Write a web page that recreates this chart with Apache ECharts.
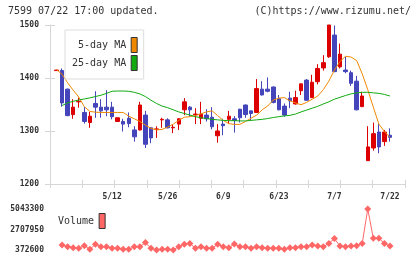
<!DOCTYPE html>
<html>
<head>
<meta charset="utf-8">
<script src="https://cdn.jsdelivr.net/npm/echarts@6/dist/echarts.min.js"></script>
<style>
  html, body { margin: 0; padding: 0; background: #fff; }
  #chart { width: 420px; height: 259px; }
</style>
</head>
<body>
<div id="chart"></div>
<script>
// trading days shown (2025), one candle per day
const dates = [
  '4/23','4/24','4/25','4/28','4/30','5/1','5/2','5/7','5/8','5/9',
  '5/12','5/13','5/14','5/15','5/16','5/19','5/20','5/21','5/22','5/23',
  '5/26','5/27','5/28','5/29','5/30','6/2','6/3','6/4','6/5','6/6',
  '6/9','6/10','6/11','6/12','6/13','6/16','6/17','6/18','6/19','6/20',
  '6/23','6/24','6/25','6/26','6/27','6/30','7/1','7/2','7/3','7/4',
  '7/7','7/8','7/9','7/10','7/11','7/14','7/15','7/16','7/17','7/18',
  '7/22'
];
const labelDays = ['5/12', '5/26', '6/9', '6/23', '7/7', '7/22'];

// [open, close, low, high]
const ohlc = [
  [1414, 1415, 1414, 1415], [1414, 1353, 1346, 1418], [1379, 1329, 1328, 1380],
  [1331, 1345, 1323, 1360], [1355, 1356, 1344, 1363], [1335, 1318, 1314, 1345],
  [1316, 1328, 1306, 1336], [1352, 1345, 1325, 1375], [1345, 1338, 1325, 1360],
  [1345, 1340, 1328, 1377], [1345, 1327, 1322, 1355], [1318, 1325, 1317, 1325],
  [1318, 1313, 1299, 1323], [1324, 1314, 1307, 1335], [1302, 1289, 1280, 1309],
  [1302, 1349, 1301, 1355], [1330, 1275, 1268, 1338], [1306, 1287, 1277, 1307],
  [1303, 1304, 1287, 1309], [1321, 1322, 1306, 1325], [1321, 1306, 1305, 1324],
  [1306, 1307, 1296, 1313], [1313, 1323, 1302, 1324], [1340, 1355, 1330, 1362],
  [1345, 1340, 1327, 1347], [1331, 1332, 1313, 1343], [1324, 1332, 1313, 1355],
  [1330, 1323, 1318, 1341], [1326, 1308, 1303, 1345], [1291, 1300, 1278, 1313],
  [1313, 1310, 1292, 1323], [1322, 1328, 1314, 1338], [1323, 1320, 1297, 1328],
  [1341, 1325, 1316, 1342], [1349, 1331, 1325, 1350], [1338, 1333, 1320, 1338],
  [1335, 1380, 1334, 1398], [1379, 1368, 1367, 1394], [1379, 1375, 1373, 1401],
  [1383, 1354, 1352, 1384], [1361, 1340, 1339, 1368], [1347, 1330, 1327, 1352],
  [1362, 1357, 1343, 1374], [1351, 1363, 1350, 1376], [1376, 1389, 1368, 1389],
  [1396, 1358, 1357, 1398], [1363, 1392, 1362, 1406], [1393, 1418, 1388, 1426],
  [1419, 1429, 1414, 1443], [1440, 1500, 1438, 1500], [1481, 1412, 1411, 1499],
  [1421, 1445, 1418, 1465], [1415, 1412, 1409, 1440], [1410, 1390, 1385, 1414],
  [1394, 1340, 1339, 1404], [1346, 1366, 1345, 1374], [1244, 1270, 1244, 1309],
  [1268, 1295, 1263, 1316], [1298, 1270, 1258, 1314], [1280, 1298, 1272, 1302],
  [1292, 1288, 1280, 1305]
];

const ma5 = [
  1416, 1407, 1391, 1377, 1364, 1346, 1337, 1335.5, 1335, 1335,
  1335, 1335, 1335, 1328, 1323, 1318, 1311, 1305, 1302, 1303,
  1307.5, 1313, 1320, 1326, 1327, 1329, 1332.5, 1336, 1338, 1329,
  1320, 1314, 1312.5, 1312.5, 1318, 1324, 1330, 1340, 1347, 1358.5,
  1362, 1363, 1357, 1353, 1349.5, 1354, 1360, 1366, 1378, 1394,
  1415, 1431, 1441, 1439.5, 1433, 1408, 1378, 1345, 1313, 1299,
  1288
];

const ma25 = [
  null, 1348, 1353, 1356, 1358.5, 1360.4, 1362.5, 1365, 1367.5, 1371,
  1375, 1375.4, 1375.4, 1375, 1373, 1370, 1365, 1358, 1352, 1347,
  1344, 1340, 1336, 1333, 1330, 1327, 1325, 1323.5, 1322, 1321,
  1320, 1319.5, 1319.5, 1319, 1319, 1320, 1321, 1322, 1323.5, 1325.5,
  1327, 1328.5, 1329.5, 1332, 1336, 1339.5, 1343, 1346.5, 1351, 1355,
  1360, 1363.5, 1367, 1370, 1372, 1373, 1373, 1372, 1371, 1369,
  1366
];

const volume = [
  null, 946000, 755000, 640000, 564000, 870000, 449000, 1023000, 755000, 755000,
  564000, 564000, 449000, 449000, 755000, 755000, 1214000, 564000, 372600, 449000,
  449000, 380000, 755000, 1023000, 1120000, 564000, 755000, 564000, 564000, 1023000,
  755000, 640000, 1061000, 755000, 755000, 564000, 755000, 640000, 564000, 564000,
  564000, 449000, 640000, 640000, 755000, 755000, 946000, 832000, 755000, 1120000,
  1673000, 832000, 755000, 832000, 870000, 1120000, 5043300, 1712000, 1712000, 1120000,
  832000
];

const priceMin = 1200;
const priceMax = 1500;
const volumeTicks = [372600, 2707950, 5043300];

const mono = 'DejaVu Sans Mono';
const axisGray = '#d6d6d6';
const plain = v => String(Math.round(v));

// x runs over candle index; extent leaves room left of the first candle and right of the last
const xMin = -1.17;
const xMax = 62.7;
const tickVals = [];
for (let k = 0; k <= 11; k++) tickVals.push(xMin + (xMax - xMin) * k / 11);
const labelIdx = labelDays.map(d => dates.indexOf(d));

const chart = echarts.init(document.getElementById('chart'), null, { renderer: 'canvas' });

const baseX = {
  type: 'value', min: xMin, max: xMax, position: 'bottom',
  splitLine: { show: false }
};

chart.setOption({
  animation: false,
  title: [
    { text: '7599 07/22 17:00 updated.', left: 8, top: 6, padding: 0,
      textStyle: { fontFamily: mono, fontSize: 10, fontWeight: 'normal', color: '#333' } },
    { text: '(C)https://www.rizumu.net/', right: 9, top: 6, padding: 0,
      textStyle: { fontFamily: mono, fontSize: 10, fontWeight: 'normal', color: '#333' } }
  ],
  legend: [
    {
      data: [{ name: '5-day MA', icon: 'rect' }, { name: '25-day MA', icon: 'rect' }],
      orient: 'vertical', align: 'right', left: 65, top: 30,
      padding: [7, 6, 8, 7], borderColor: '#dddddd', borderWidth: 1,
      itemWidth: 6, itemHeight: 15, itemGap: 2, selectedMode: false,
      itemStyle: { borderColor: '#333', borderWidth: 1 },
      textStyle: { fontFamily: mono, fontSize: 10, color: '#333' }
    },
    {
      data: [{ name: 'Volume', icon: 'rect' }],
      orient: 'vertical', align: 'right', left: 58, top: 213, padding: 0,
      itemWidth: 6, itemHeight: 15, selectedMode: false,
      itemStyle: { borderColor: '#333', borderWidth: 1 },
      textStyle: { fontFamily: mono, fontSize: 10, color: '#333' }
    }
  ],
  grid: [
    { left: 50, top: 25, width: 355, height: 159 },
    { left: 50, top: 209, width: 355, height: 41 }
  ],
  xAxis: [
    Object.assign({}, baseX, {
      gridIndex: 0,
      axisLine: { show: true, onZero: false, lineStyle: { color: axisGray } },
      axisTick: { show: true, customValues: tickVals, length: 4, lineStyle: { color: axisGray } },
      axisLabel: {
        customValues: labelIdx, formatter: v => dates[Math.round(v)],
        margin: 9, fontFamily: mono, fontSize: 8, fontWeight: 'bold', color: '#333'
      }
    }),
    Object.assign({}, baseX, {
      gridIndex: 0,
      axisLine: { show: false, onZero: false },
      axisTick: { show: true, inside: true, customValues: tickVals, length: 4, lineStyle: { color: axisGray } },
      axisLabel: { show: false }
    }),
    Object.assign({}, baseX, {
      gridIndex: 1, show: false
    })
  ],
  yAxis: [
    {
      type: 'value', gridIndex: 0, min: priceMin, max: priceMax, interval: 100, position: 'left',
      axisLine: { show: true, onZero: false, lineStyle: { color: axisGray } },
      axisTick: { show: true, length: 5, lineStyle: { color: axisGray } },
      axisLabel: { margin: 11, formatter: plain, fontFamily: mono, fontSize: 8, fontWeight: 'bold', color: '#333' },
      splitLine: { show: false }
    },
    {
      type: 'value', gridIndex: 0, min: priceMin, max: priceMax, interval: 100, position: 'left',
      axisLine: { show: false, onZero: false },
      axisTick: { show: true, inside: true, length: 5, lineStyle: { color: axisGray } },
      axisLabel: { show: false },
      splitLine: { show: false }
    },
    {
      type: 'value', gridIndex: 1, min: volumeTicks[0], max: volumeTicks[2], position: 'left',
      axisLine: { show: false, onZero: false },
      axisTick: { show: false },
      axisLabel: {
        customValues: volumeTicks, margin: 6, formatter: plain,
        fontFamily: mono, fontSize: 8, fontWeight: 'bold', color: '#333'
      },
      splitLine: { show: false }
    }
  ],
  series: [
    {
      type: 'candlestick', name: 'price', xAxisIndex: 0, yAxisIndex: 0,
      data: ohlc.map((d, i) => [i, d[0], d[1], d[2], d[3]]),
      barWidth: 4, clip: true,
      itemStyle: {
        color: '#dd0000', color0: '#4444bb',
        borderColor: '#dd0000', borderColor0: '#4444bb', borderWidth: 1
      }
    },
    {
      type: 'line', name: '5-day MA', xAxisIndex: 0, yAxisIndex: 0,
      data: ma5.map((v, i) => [i, v]), symbol: 'none', color: '#f08800',
      lineStyle: { width: 1, color: '#f08800' }
    },
    {
      type: 'line', name: '25-day MA', xAxisIndex: 0, yAxisIndex: 0,
      data: ma25.map((v, i) => [i, v]), symbol: 'none', color: '#11aa11',
      lineStyle: { width: 1, color: '#11aa11' }
    },
    {
      type: 'line', name: 'Volume', xAxisIndex: 2, yAxisIndex: 2,
      data: volume.map((v, i) => [i, v]), symbol: 'diamond', symbolSize: 7,
      showAllSymbol: true, color: '#ff6666',
      itemStyle: { color: '#ff6666' },
      lineStyle: { width: 1, color: '#ff6666' }
    }
  ]
});
</script>
</body>
</html>
